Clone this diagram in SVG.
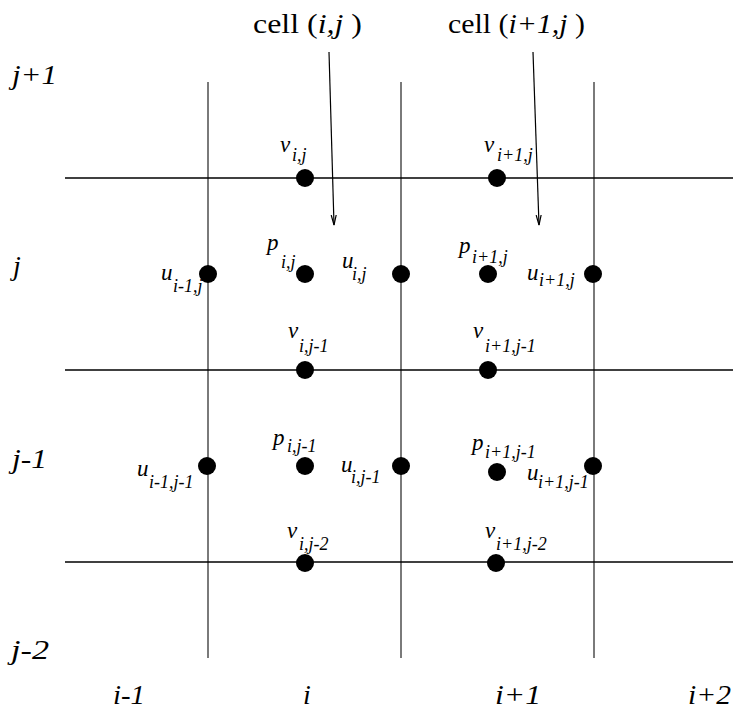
<svg xmlns="http://www.w3.org/2000/svg" width="733" height="711" viewBox="0 0 733 711">
<style>
.ax{font-size:28px;font-style:italic}
.tt{font-size:27px}
.it{font-style:italic}
.m{font-size:23px;font-style:italic}
.s{font-size:18px;font-style:italic}
.vl{stroke:#7a7a7a;stroke-width:2;fill:none}
.hl{stroke:#000;stroke-width:1.5;fill:none}
.ar{stroke:#000;stroke-width:1.2;fill:none}
.dot{fill:#000}
</style>
<defs>
<marker id="ah" markerWidth="12" markerHeight="8" refX="10" refY="3" orient="auto" markerUnits="userSpaceOnUse">
<path d="M0,0.5 L10,3 L0,5.5" fill="none" stroke="#000" stroke-width="1.2"/>
</marker>
</defs>
<g font-family="Liberation Serif, Times New Roman, serif" fill="#000">
<g id="grid">
<line class="vl" x1="208" y1="82" x2="208" y2="658"/>
<line class="vl" x1="401" y1="82" x2="401" y2="658"/>
<line class="vl" x1="594" y1="82" x2="594" y2="658"/>
<line class="hl" x1="65" y1="178" x2="733" y2="178"/>
<line class="hl" x1="65" y1="370" x2="733" y2="370"/>
<line class="hl" x1="65" y1="562" x2="733" y2="562"/>
</g>
<g id="axis-labels">
<text class="ax" x="12" y="84" textLength="45" lengthAdjust="spacingAndGlyphs">j+1</text>
<text class="ax" x="13" y="275">j</text>
<text class="ax" x="12" y="468" textLength="35" lengthAdjust="spacingAndGlyphs">j-1</text>
<text class="ax" x="11" y="659" textLength="38" lengthAdjust="spacingAndGlyphs">j-2</text>
<text class="ax" x="113" y="704" textLength="32" lengthAdjust="spacingAndGlyphs">i-1</text>
<text class="ax" x="303" y="704">i</text>
<text class="ax" x="495" y="704" textLength="46" lengthAdjust="spacingAndGlyphs">i+1</text>
<text class="ax" x="688" y="704" textLength="43" lengthAdjust="spacingAndGlyphs">i+2</text>
</g>
<g id="titles">
<text class="tt" x="253" y="33" textLength="109" lengthAdjust="spacingAndGlyphs">cell (<tspan class="it">i,j</tspan> )</text>
<text class="tt" x="448" y="33" textLength="137" lengthAdjust="spacingAndGlyphs">cell (<tspan class="it">i+1,j</tspan> )</text>
</g>
<g id="connectors">
<line class="ar" x1="329" y1="52" x2="334" y2="225" marker-end="url(#ah)"/>
<line class="ar" x1="533" y1="52" x2="539" y2="225" marker-end="url(#ah)"/>
</g>
<g id="v_i_j"><circle class="dot" cx="305" cy="178" r="9"/><text class="m" x="280" y="152">v</text><text class="s" x="292" y="161">i,j</text></g>
<g id="v_i1_j"><circle class="dot" cx="497" cy="178" r="9"/><text class="m" x="484" y="152">v</text><text class="s" x="497" y="161">i+1,j</text></g>
<g id="p_i_j"><circle class="dot" cx="305" cy="274" r="9"/><text class="m" x="267" y="250">p</text><text class="s" x="281" y="268">i,j</text></g>
<g id="p_i1_j"><circle class="dot" cx="488" cy="274" r="9"/><text class="m" x="459" y="253">p</text><text class="s" x="472" y="263">i+1,j</text></g>
<g id="u_im1_j"><circle class="dot" cx="208" cy="274" r="9"/><text class="m" x="161" y="280">u</text><text class="s" x="173" y="292">i-1,j</text></g>
<g id="u_i_j"><circle class="dot" cx="401" cy="274" r="9"/><text class="m" x="342" y="268">u</text><text class="s" x="352" y="280">i,j</text></g>
<g id="u_i1_j"><circle class="dot" cx="593" cy="274" r="9"/><text class="m" x="527" y="280">u</text><text class="s" x="539" y="286">i+1,j</text></g>
<g id="v_i_jm1"><circle class="dot" cx="305" cy="370" r="9"/><text class="m" x="288" y="338">v</text><text class="s" x="299" y="352">i,j-1</text></g>
<g id="v_i1_jm1"><circle class="dot" cx="488" cy="370" r="9"/><text class="m" x="473" y="338">v</text><text class="s" x="485" y="352">i+1,j-1</text></g>
<g id="p_i_jm1"><circle class="dot" cx="305" cy="466" r="9"/><text class="m" x="273" y="445">p</text><text class="s" x="287" y="452">i,j-1</text></g>
<g id="p_i1_jm1"><circle class="dot" cx="497" cy="472" r="9"/><text class="m" x="472" y="450">p</text><text class="s" x="485" y="458">i+1,j-1</text></g>
<g id="u_im1_jm1"><circle class="dot" cx="207" cy="466" r="9"/><text class="m" x="137" y="476">u</text><text class="s" x="149" y="488">i-1,j-1</text></g>
<g id="u_i_jm1"><circle class="dot" cx="401" cy="466" r="9"/><text class="m" x="341" y="472">u</text><text class="s" x="351" y="483">i,j-1</text></g>
<g id="u_i1_jm1"><circle class="dot" cx="593" cy="466" r="9"/><text class="m" x="527" y="480">u</text><text class="s" x="538" y="488">i+1,j-1</text></g>
<g id="v_i_jm2"><circle class="dot" cx="305" cy="563" r="9"/><text class="m" x="287" y="538">v</text><text class="s" x="299" y="550">i,j-2</text></g>
<g id="v_i1_jm2"><circle class="dot" cx="496" cy="563" r="9"/><text class="m" x="485" y="538">v</text><text class="s" x="496" y="550">i+1,j-2</text></g>
</g>
</svg>
